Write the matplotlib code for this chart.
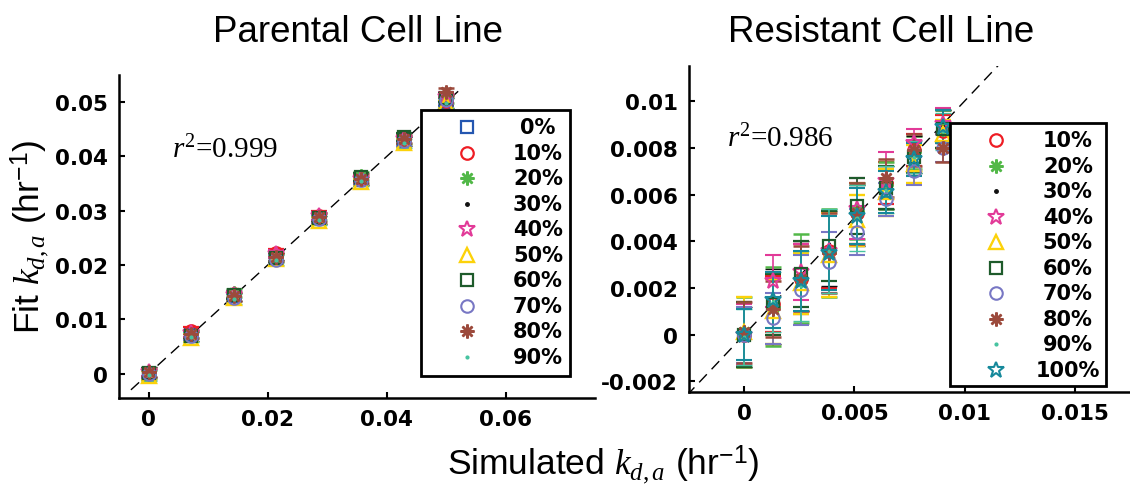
import matplotlib
matplotlib.use("Agg")
import matplotlib.pyplot as plt
from matplotlib.patches import Rectangle

plt.rcParams['mathtext.fontset'] = 'custom'
plt.rcParams['mathtext.rm'] = 'Liberation Serif'
plt.rcParams['mathtext.it'] = 'Liberation Serif:italic'
plt.rcParams['mathtext.sf'] = 'Liberation Sans'
plt.rcParams['font.family'] = ['DejaVu Sans']

# ---------------- data ----------------
x_parental = [0.0, 0.00714, 0.01429, 0.02143, 0.02857, 0.03571, 0.04286, 0.05]
labels_parental = ['0%', '10%', '20%', '30%', '40%', '50%', '60%', '70%', '80%', '90%']
y_parental = [
    [0.0000, 0.0071, 0.0143, 0.0214, 0.0286, 0.0357, 0.0429, 0.0500],
    [0.0001, 0.0079, 0.0146, 0.0222, 0.0291, 0.0360, 0.0431, 0.0503],
    [-0.0002, 0.0072, 0.0148, 0.0213, 0.0289, 0.0364, 0.0430, 0.0506],
    [0.0003, 0.0068, 0.0141, 0.0216, 0.0283, 0.0355, 0.0427, 0.0498],
    [0.0002, 0.0074, 0.0145, 0.0220, 0.0290, 0.0358, 0.0433, 0.0510],
    [-0.0004, 0.0066, 0.0140, 0.0211, 0.0281, 0.0352, 0.0425, 0.0496],
    [0.0001, 0.0070, 0.0144, 0.0212, 0.0287, 0.0362, 0.0436, 0.0508],
    [-0.0001, 0.0069, 0.0139, 0.0210, 0.0285, 0.0356, 0.0428, 0.0504],
    [0.0002, 0.0073, 0.0142, 0.0215, 0.0288, 0.0359, 0.0432, 0.0519],
    [-0.0003, 0.0067, 0.0138, 0.0209, 0.0282, 0.0354, 0.0424, 0.0499],
]
err_parental = [
    [0.0008, 0.0007, 0.0007, 0.0008, 0.0007, 0.0008, 0.0007, 0.0008],
    [0.0007, 0.0006, 0.0006, 0.0007, 0.0008, 0.0007, 0.0008, 0.0007],
    [0.0008, 0.0007, 0.0007, 0.0008, 0.0007, 0.0008, 0.0007, 0.0008],
    [0.0009, 0.0008, 0.0007, 0.0007, 0.0008, 0.0008, 0.0008, 0.0009],
    [0.0007, 0.0007, 0.0008, 0.0007, 0.0007, 0.0008, 0.0007, 0.0008],
    [0.0008, 0.0008, 0.0007, 0.0008, 0.0008, 0.0007, 0.0008, 0.0007],
    [0.0009, 0.0007, 0.0007, 0.0008, 0.0007, 0.0008, 0.0008, 0.0008],
    [0.0008, 0.0008, 0.0008, 0.0009, 0.0008, 0.0007, 0.0008, 0.0008],
    [0.0008, 0.0007, 0.0008, 0.0008, 0.0008, 0.0008, 0.0008, 0.0007],
    [0.0010, 0.0009, 0.0009, 0.0009, 0.0009, 0.0009, 0.0009, 0.0009],
]
r2_parental = 0.999

x_resistant = [0.0, 0.00129, 0.00257, 0.00386, 0.00514, 0.00643, 0.00771, 0.009]
labels_resistant = ['10%', '20%', '30%', '40%', '50%', '60%', '70%', '80%', '90%', '100%']
y_resistant = [
    [0.0000, 0.0013, 0.0024, 0.0036, 0.0052, 0.0065, 0.0079, 0.0087],
    [0.0001, 0.0012, 0.0024, 0.0035, 0.0053, 0.0064, 0.0078, 0.0088],
    [-0.0001, 0.0012, 0.0025, 0.0037, 0.0051, 0.0063, 0.0077, 0.0089],
    [0.0000, 0.0023, 0.0027, 0.0036, 0.0054, 0.0066, 0.0082, 0.0090],
    [0.0001, 0.0010, 0.0022, 0.0034, 0.0049, 0.0061, 0.0073, 0.0086],
    [0.0000, 0.0013, 0.0026, 0.0038, 0.0055, 0.0063, 0.0076, 0.0088],
    [0.0000, 0.0007, 0.0019, 0.0031, 0.0044, 0.0058, 0.0070, 0.0080],
    [0.0001, 0.0011, 0.0024, 0.0035, 0.0052, 0.0067, 0.0079, 0.0080],
    [-0.0001, 0.0014, 0.0021, 0.0036, 0.0050, 0.0062, 0.0076, 0.0087],
    [0.0000, 0.0015, 0.0023, 0.0035, 0.0051, 0.0061, 0.0075, 0.0089],
]
err_resistant = [
    [0.0014, 0.0012, 0.0015, 0.0016, 0.0013, 0.0009, 0.0007, 0.0007],
    [0.0015, 0.0017, 0.0019, 0.0019, 0.0012, 0.0010, 0.0007, 0.0008],
    [0.0013, 0.0016, 0.0015, 0.0016, 0.0013, 0.0009, 0.0008, 0.0007],
    [0.0013, 0.0011, 0.0012, 0.0017, 0.0013, 0.0012, 0.0006, 0.0007],
    [0.0015, 0.0014, 0.0013, 0.0018, 0.0011, 0.0010, 0.0008, 0.0006],
    [0.0014, 0.0013, 0.0014, 0.0015, 0.0012, 0.0009, 0.0007, 0.0008],
    [0.0012, 0.0011, 0.0015, 0.0013, 0.0010, 0.0007, 0.0006, 0.0006],
    [0.0013, 0.0012, 0.0014, 0.0017, 0.0013, 0.0008, 0.0007, 0.0006],
    [0.0012, 0.0013, 0.0015, 0.0018, 0.0014, 0.0010, 0.0007, 0.0008],
    [0.0011, 0.0012, 0.0013, 0.0016, 0.0012, 0.0009, 0.0007, 0.0007],
]
r2_resistant = 0.986

# ---------------- styles ----------------
ASTER = (8, 2, 0)
style = {
    '0%':   dict(color='#2456b0', marker='s', ms=8, mfc='none', mew=1.6),
    '10%':  dict(color='#ee1d24', marker='o', ms=9, mfc='none', mew=1.6),
    '20%':  dict(color='#52b848', marker=ASTER, ms=10, mfc='none', mew=1.8),
    '30%':  dict(color='#111111', marker='.', ms=5, mfc='#111111', mew=1),
    '40%':  dict(color='#e23a98', marker='*', ms=12, mfc='none', mew=1.5),
    '50%':  dict(color='#fcd20a', marker='^', ms=10, mfc='none', mew=1.7),
    '60%':  dict(color='#1e5b2b', marker='s', ms=8, mfc='none', mew=1.6),
    '70%':  dict(color='#7877c4', marker='o', ms=9, mfc='none', mew=1.5),
    '80%':  dict(color='#9c4a3c', marker=ASTER, ms=10, mfc='none', mew=1.8),
    '90%':  dict(color='#46c3a0', marker='.', ms=4, mfc='#46c3a0', mew=1),
    '100%': dict(color='#16899b', marker='*', ms=12, mfc='none', mew=1.5),
}

W, H = 1130, 489
fig = plt.figure(figsize=(W / 100, H / 100), dpi=100)

axL = fig.add_axes([119 / W, 1 - 399 / H, 476 / W, 323 / H])
axR = fig.add_axes([689 / W, 1 - 393 / H, 441 / W, 326 / H])

TICK_FS = 15.5
LEG_FS = 15


def panel(ax, xs, ys, errs, labels, xlim, ylim, diag):
    ax.plot(diag, diag, color='black', lw=1.0, dashes=(8, 5), zorder=1)
    for lab, yv, ev in zip(labels, ys, errs):
        st = style[lab]
        ax.errorbar(xs, yv, yerr=ev, linestyle='none', color=st['color'],
                     ecolor=st['color'], elinewidth=1.2, capsize=5.5, capthick=1.8,
                     marker=st['marker'], ms=st['ms'], mfc=st['mfc'],
                     mec=st['color'], mew=st['mew'], zorder=3)
    ax.set_xlim(*xlim)
    ax.set_ylim(*ylim)
    for s in ['top', 'right']:
        ax.spines[s].set_visible(False)
    for s in ['left', 'bottom']:
        ax.spines[s].set_linewidth(1.8)
    ax.tick_params(direction='in', length=4, width=1.5, pad=8)


def legend(ax, labels, box, y_first, y_step, mx, tx):
    x0, y0, x1, y1 = box
    ax.add_patch(Rectangle((x0, y0), x1 - x0, y1 - y0, transform=ax.transAxes,
                           fc='white', ec='black', lw=2.0, zorder=10, clip_on=False))
    for i, lab in enumerate(labels):
        y = y_first - i * y_step
        st = style[lab]
        ax.plot([mx], [y], transform=ax.transAxes, linestyle='none',
                marker=st['marker'], ms=st['ms'], mfc=st['mfc'], mec=st['color'],
                mew=st['mew'], color=st['color'], zorder=11, clip_on=False)
        ax.text(tx, y, lab, transform=ax.transAxes, ha='center', va='center',
                fontsize=LEG_FS, fontweight='bold', zorder=11)


panel(axL, x_parental, y_parental, err_parental, labels_parental,
      (-0.005, 0.075), (-0.0045, 0.055), [-0.003, 0.052])
axL.set_xticks([0, 0.02, 0.04, 0.06])
axL.set_xticklabels(['0', '0.02', '0.04', '0.06'], fontsize=TICK_FS, fontweight='bold')
axL.set_yticks([0, 0.01, 0.02, 0.03, 0.04, 0.05])
axL.set_yticklabels(['0', '0.01', '0.02', '0.03', '0.04', '0.05'], fontsize=TICK_FS, fontweight='bold')

panel(axR, x_resistant, y_resistant, err_resistant, labels_resistant,
      (-0.0025, 0.0175), (-0.00245, 0.0115), [-0.0026, 0.0116])
axR.set_xticks([0, 0.005, 0.01, 0.015])
axR.set_xticklabels(['0', '0.005', '0.01', '0.015'], fontsize=TICK_FS, fontweight='bold')
axR.set_yticks([-0.002, 0, 0.002, 0.004, 0.006, 0.008, 0.01])
axR.set_yticklabels(['-0.002', '0', '0.002', '0.004', '0.006', '0.008', '0.01'],
                    fontsize=TICK_FS, fontweight='bold')

legend(axL, labels_parental, (0.634, 0.068, 0.947, 0.892), 0.839, (0.839 - 0.127) / 9, 0.731, 0.880)
legend(axR, labels_resistant, (0.592, 0.018, 0.946, 0.825), 0.773, (0.773 - 0.0675) / 9, 0.696, 0.859)

axL.text(0.111, 0.77, r'$r^2$' + '=%.3f' % r2_parental, transform=axL.transAxes,
         ha='left', va='center', fontsize=21, family='Liberation Serif')
axR.text(0.086, 0.78, r'$r^2$' + '=%.3f' % r2_resistant, transform=axR.transAxes,
         ha='left', va='center', fontsize=21, family='Liberation Serif')

fig.text(358 / W, 1 - 33 / H, 'Parental Cell Line', ha='center', va='center',
         fontsize=26.5, family='Liberation Sans')
fig.text(881 / W, 1 - 33 / H, 'Resistant Cell Line', ha='center', va='center',
         fontsize=26.5, family='Liberation Sans')
fig.text(603 / W, 1 - 465 / H, r'Simulated $k_{d,a}$ (hr$^{\mathsf{-1}}$)', ha='center',
         va='center', fontsize=25.5, family='Liberation Sans')
fig.text(30 / W, 1 - 237 / H, r'Fit $k_{d,a}$ (hr$^{\mathsf{-1}}$)', ha='center',
         va='center', rotation=90, fontsize=25.5, family='Liberation Sans')

fig.savefig('out.png', dpi=100)
